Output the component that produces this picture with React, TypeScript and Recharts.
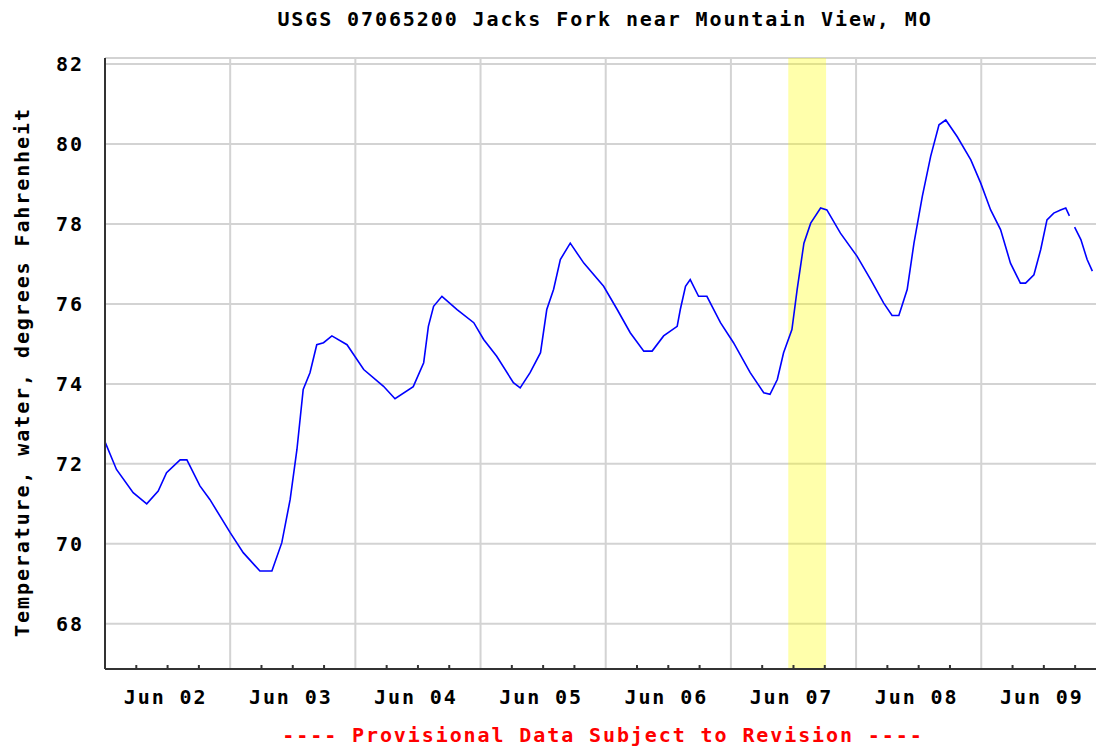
import {
  LineChart, Line, XAxis, YAxis, CartesianGrid, ReferenceLine, ReferenceArea,
} from 'recharts'

// hours since Jun 02 00:00, water temperature (deg F)
const hours = [
  0, 2.2, 5.4, 8, 10.2, 11.8, 14.4, 15.7, 18.2, 20.1,
  24, 26.5, 29.7, 32, 33.9, 35.5, 36.8, 38, 39.3, 40.6, 41.9, 43.5, 46.4,
  49.6, 53.4, 55.6, 59.1, 61.1, 62, 63, 64.6, 67.5, 70.7,
  72.6, 75.1, 78.3, 79.6, 81.5, 83.5, 84.7, 86, 87.3, 89.2, 91.8, 95.6,
  98.2, 100.7, 103.3, 104.9, 107.1, 109.7, 110.3, 111.3, 112.2, 113.8, 115.4, 118,
  120.5, 123.7, 126.3, 127.5, 128.9, 130.1, 131.7, 132.7, 134, 135.3, 137.2, 138.4, 141,
  144.2, 146.8, 149.3, 150.9, 152.2, 153.8, 155.1, 156.7, 158.3, 159.9, 161.2, 163.4, 166,
  167.9, 169.8, 171.7, 173.6, 175.5, 176.5, 178.1, 179.4, 180.6, 181.9, 183.2, 184.2, 184.9,
  185.4, 185.9, 187.1, 188.3, 189.3,
]
const tempF: (number | null)[] = [
  72.55, 71.86, 71.28, 71.0, 71.32, 71.78, 72.1, 72.1, 71.45, 71.11,
  70.28, 69.78, 69.32, 69.32, 70.03, 71.11, 72.36, 73.86, 74.28, 74.98, 75.03, 75.2, 74.98,
  74.36, 73.94, 73.63, 73.93, 74.53, 75.44, 75.94, 76.19, 75.86, 75.53,
  75.11, 74.69, 74.03, 73.9, 74.28, 74.78, 75.86, 76.36, 77.11, 77.52, 77.02, 76.44,
  75.86, 75.28, 74.82, 74.82, 75.2, 75.44, 75.86, 76.44, 76.61, 76.19, 76.19, 75.53,
  75.03, 74.28, 73.78, 73.74, 74.11, 74.78, 75.36, 76.36, 77.52, 78.02, 78.4, 78.35, 77.77,
  77.19, 76.61, 76.02, 75.71, 75.71, 76.36, 77.52, 78.69, 79.69, 80.48, 80.6, 80.18, 79.6,
  79.02, 78.35, 77.86, 77.02, 76.52, 76.52, 76.73, 77.36, 78.1, 78.27, 78.35, 78.4, 78.2,
  null, 77.92, 77.61, 77.11, 76.82,
]

const dayLabels = ['Jun 02', 'Jun 03', 'Jun 04', 'Jun 05', 'Jun 06', 'Jun 07', 'Jun 08', 'Jun 09']
const midnights = [24, 48, 72, 96, 120, 144, 168]
const minorTicks = [6, 12, 18, 30, 36, 42, 54, 60, 66, 78, 84, 90, 102, 108, 114, 126, 132, 138, 150, 156, 162, 174, 180, 186]
const yTicks = [68, 70, 72, 74, 76, 78, 80, 82]
const band = [131, 138.25]

const data = hours.map((h, i) => ({ h, temp: tempF[i] }))

const font = '"DejaVu Sans Mono", "Liberation Mono", monospace'
const txt = { fontFamily: font, fontWeight: 700, fontSize: 20, letterSpacing: 1.9 }

function BottomTick(props: any) {
  const { x, y, payload } = props
  const v = payload.value as number
  return (
    <g>
      <line x1={x} x2={x} y1={y} y2={y - 4} stroke="#333" strokeWidth={2} />
      {v % 24 === 12 && (
        <text x={x - 2} y={y + 35} textAnchor="middle" fill="#000" style={txt}>
          {dayLabels[Math.floor(v / 24)]}
        </text>
      )}
    </g>
  )
}

function TopTick(props: any) {
  const { x, y } = props
  return <line x1={x} x2={x} y1={y} y2={y + 4} stroke="#333" strokeWidth={2} />
}

function LeftTick(props: any) {
  const { y, payload } = props
  return (
    <text x={84} y={y + 7} textAnchor="end" fill="#000" style={txt}>
      {payload.value}
    </text>
  )
}

export default function App() {
  return (
    <div style={{ position: 'absolute', left: 0, top: 0, width: 1096, height: 749, background: '#fff', overflow: 'hidden' }}>
      <div style={{ ...txt, position: 'absolute', left: 0, width: 1210, top: 7, textAlign: 'center', lineHeight: '24px' }}>
        USGS 07065200 Jacks Fork near Mountain View, MO
      </div>
      <div
        style={{
          ...txt, position: 'absolute', left: 22, top: 372, whiteSpace: 'nowrap', lineHeight: '24px',
          transform: 'translate(-50%, -50%) rotate(-90deg)',
        }}
      >
        Temperature, water, degrees Fahrenheit
      </div>
      <div style={{ ...txt, position: 'absolute', left: 0, width: 1206, top: 723, textAlign: 'center', color: '#ff0000', lineHeight: '24px' }}>
        ---- Provisional Data Subject to Revision ----
      </div>

      <LineChart width={1096} height={749} data={data} margin={{ top: 58, right: 0, bottom: 40, left: 0 }}>
        <ReferenceArea x1={band[0]} x2={band[1]} fill="#ffff00" fillOpacity={0.33} stroke="none" />
        <CartesianGrid vertical={false} stroke="#d3d3d3" strokeWidth={2} />
        {midnights.map((m) => (
          <ReferenceLine key={m} x={m} stroke="#d3d3d3" strokeWidth={2} />
        ))}
        <XAxis
          dataKey="h" type="number" domain={[0, 190]} allowDataOverflow ticks={minorTicks}
          height={40} tickSize={0} tickMargin={0} tickLine={false} interval={0}
          axisLine={{ stroke: '#333', strokeWidth: 2 }} tick={<BottomTick />}
        />
        <XAxis
          xAxisId="top" orientation="top" dataKey="h" type="number" domain={[0, 190]} allowDataOverflow
          ticks={minorTicks} height={0} tickSize={0} tickMargin={0} tickLine={false} interval={0}
          axisLine={{ stroke: '#333', strokeWidth: 2 }} tick={<TopTick />}
        />
        <YAxis
          type="number" domain={[66.87, 82.15]} allowDataOverflow ticks={yTicks} width={105}
          tickSize={0} tickMargin={0} tickLine={false} interval={0}
          axisLine={{ stroke: '#333', strokeWidth: 2 }} tick={<LeftTick />}
        />
        <Line
          type="linear" dataKey="temp" stroke="#0000ff" strokeWidth={1.6} dot={false}
          connectNulls={false} isAnimationActive={false}
        />
      </LineChart>
    </div>
  )
}
